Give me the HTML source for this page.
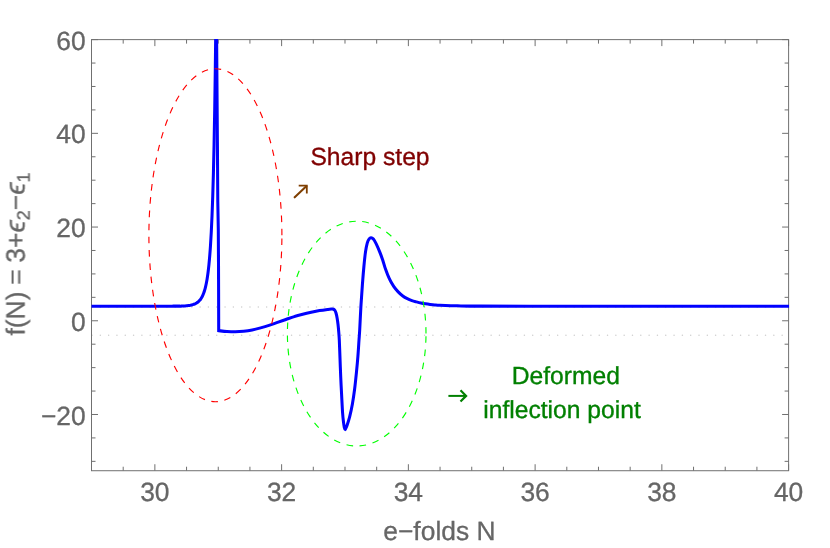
<!DOCTYPE html><html><head><meta charset="utf-8"><title>plot</title><style>html,body{margin:0;padding:0;background:#fff}svg{display:block}text{font-family:"Liberation Sans",sans-serif;text-rendering:geometricPrecision}.g text{stroke:#666;stroke-width:.3px}</style></head><body>
<svg width="830" height="548" viewBox="0 0 830 548">
<rect width="830" height="548" fill="#fff"/><g opacity="0.999">
<defs><clipPath id="c"><rect x="91.00" y="39.12" width="698.10" height="431.60"/></clipPath></defs>
<line x1="92.00" y1="306.90" x2="788.60" y2="306.90" stroke="#cfcfcf" stroke-width="1.5" stroke-linecap="round" stroke-dasharray="0.01 8.305"/>
<line x1="92.00" y1="335.35" x2="788.60" y2="335.35" stroke="#cfcfcf" stroke-width="1.5" stroke-linecap="round" stroke-dasharray="0.01 8.305"/>
<path d="M91.50 470.72v-4.00 M91.50 39.62v4.00 M123.19 470.72v-4.00 M123.19 39.62v4.00 M154.87 470.72v-6.50 M154.87 39.62v6.50 M186.56 470.72v-4.00 M186.56 39.62v4.00 M218.25 470.72v-4.00 M218.25 39.62v4.00 M249.93 470.72v-4.00 M249.93 39.62v4.00 M281.62 470.72v-6.50 M281.62 39.62v6.50 M313.30 470.72v-4.00 M313.30 39.62v4.00 M344.99 470.72v-4.00 M344.99 39.62v4.00 M376.68 470.72v-4.00 M376.68 39.62v4.00 M408.36 470.72v-6.50 M408.36 39.62v6.50 M440.05 470.72v-4.00 M440.05 39.62v4.00 M471.74 470.72v-4.00 M471.74 39.62v4.00 M503.42 470.72v-4.00 M503.42 39.62v4.00 M535.11 470.72v-6.50 M535.11 39.62v6.50 M566.80 470.72v-4.00 M566.80 39.62v4.00 M598.48 470.72v-4.00 M598.48 39.62v4.00 M630.17 470.72v-4.00 M630.17 39.62v4.00 M661.85 470.72v-6.50 M661.85 39.62v6.50 M693.54 470.72v-4.00 M693.54 39.62v4.00 M725.23 470.72v-4.00 M725.23 39.62v4.00 M756.91 470.72v-4.00 M756.91 39.62v4.00 M788.60 470.72v-6.50 M788.60 39.62v6.50 M91.50 461.35h4.00 M788.60 461.35h-4.00 M91.50 437.92h4.00 M788.60 437.92h-4.00 M91.50 414.49h6.50 M788.60 414.49h-6.50 M91.50 391.06h4.00 M788.60 391.06h-4.00 M91.50 367.63h4.00 M788.60 367.63h-4.00 M91.50 344.20h4.00 M788.60 344.20h-4.00 M91.50 320.77h6.50 M788.60 320.77h-6.50 M91.50 297.34h4.00 M788.60 297.34h-4.00 M91.50 273.91h4.00 M788.60 273.91h-4.00 M91.50 250.48h4.00 M788.60 250.48h-4.00 M91.50 227.05h6.50 M788.60 227.05h-6.50 M91.50 203.63h4.00 M788.60 203.63h-4.00 M91.50 180.20h4.00 M788.60 180.20h-4.00 M91.50 156.77h4.00 M788.60 156.77h-4.00 M91.50 133.34h6.50 M788.60 133.34h-6.50 M91.50 109.91h4.00 M788.60 109.91h-4.00 M91.50 86.48h4.00 M788.60 86.48h-4.00 M91.50 63.05h4.00 M788.60 63.05h-4.00 M91.50 39.62h6.50 M788.60 39.62h-6.50" stroke="#707070" stroke-width="1" fill="none"/>
<rect x="91.50" y="39.62" width="697.10" height="431.10" fill="none" stroke="#707070" stroke-width="1"/>
<g clip-path="url(#c)"><path d="M91.50 306.15 C99.58 306.15 127.75 306.15 140.00 306.15 C152.25 306.15 159.67 306.15 165.00 306.15 C170.33 306.15 169.83 306.15 172.00 306.15 C174.17 306.14 176.58 306.12 178.00 306.12 C179.42 306.12 179.95 306.15 180.52 306.15 C181.08 306.15 181.09 306.13 181.39 306.12 C181.69 306.11 181.99 306.09 182.30 306.08 C182.60 306.06 182.91 306.05 183.23 306.03 C183.55 306.01 183.87 306.00 184.19 305.97 C184.51 305.95 184.84 305.93 185.17 305.90 C185.50 305.88 185.84 305.85 186.17 305.82 C186.51 305.79 186.85 305.75 187.19 305.72 C187.53 305.68 187.87 305.64 188.22 305.59 C188.56 305.55 188.91 305.50 189.26 305.44 C189.61 305.38 189.96 305.32 190.31 305.26 C190.66 305.19 191.01 305.11 191.36 305.03 C191.71 304.95 192.06 304.86 192.41 304.76 C192.77 304.66 193.12 304.55 193.47 304.43 C193.82 304.31 194.17 304.18 194.53 304.03 C194.88 303.88 195.23 303.72 195.58 303.55 C195.93 303.37 196.27 303.17 196.62 302.96 C196.97 302.74 197.32 302.50 197.66 302.24 C198.00 301.98 198.35 301.69 198.69 301.37 C199.03 301.05 199.37 300.70 199.70 300.31 C200.04 299.92 200.38 299.51 200.71 299.03 C201.04 298.56 201.37 298.05 201.70 297.48 C202.02 296.90 202.35 296.28 202.67 295.59 C202.99 294.89 203.31 294.14 203.63 293.29 C203.94 292.45 204.25 291.54 204.56 290.51 C204.87 289.48 205.18 288.37 205.48 287.13 C205.78 285.88 206.08 284.54 206.38 283.02 C206.68 281.51 206.97 279.88 207.26 278.04 C207.54 276.20 207.83 274.22 208.11 271.98 C208.39 269.75 208.67 267.35 208.94 264.64 C209.21 261.93 209.48 259.01 209.75 255.72 C210.01 252.42 210.28 248.88 210.53 244.88 C210.79 240.89 211.04 236.59 211.29 231.73 C211.54 226.88 211.79 221.66 212.03 215.77 C212.27 209.87 212.50 203.53 212.74 196.38 C212.97 189.23 213.20 181.53 213.42 172.84 C213.64 164.16 213.86 154.81 214.08 144.27 C214.29 133.72 214.51 122.37 214.71 109.57 C214.92 96.77 215.12 82.99 215.32 67.45 C215.52 51.90 215.81 24.82 215.91 16.30" fill="none" stroke="#0000ff" stroke-width="3.05" stroke-linejoin="round"/><path d="M216.55 20.00 L216.65 40.00 L216.95 82.00 L217.40 142.00 L217.80 202.00 L218.30 230.00 L218.50 262.00 L218.60 290.00 L218.70 330.70 C220.07 330.83 224.13 331.32 226.90 331.50 C229.67 331.68 232.50 331.83 235.30 331.80 C238.10 331.77 240.88 331.60 243.70 331.30 C246.52 331.00 249.38 330.57 252.20 330.00 C255.02 329.43 257.80 328.67 260.60 327.90 C263.40 327.13 266.18 326.32 269.00 325.40 C271.82 324.48 274.68 323.38 277.50 322.40 C280.32 321.42 283.10 320.47 285.90 319.50 C288.70 318.53 291.50 317.47 294.30 316.60 C297.10 315.73 299.88 315.02 302.70 314.30 C305.52 313.58 308.38 312.92 311.20 312.30 C314.02 311.68 316.80 311.08 319.60 310.60 C322.40 310.12 325.93 309.67 328.00 309.40 C330.07 309.13 331.33 309.07 332.00 309.00 C332.27 309.04 333.13 309.03 333.60 309.24 C334.07 309.45 334.40 309.65 334.80 310.28 C335.20 310.91 335.62 311.74 336.00 313.02 C336.38 314.30 336.77 316.08 337.10 317.96 C337.43 319.84 337.73 322.04 338.00 324.30 C338.27 326.56 338.48 328.88 338.70 331.50 C338.92 334.12 339.08 335.55 339.30 340.00 C339.52 344.45 339.77 352.12 340.00 358.20 C340.23 364.28 340.43 370.42 340.70 376.50 C340.97 382.58 341.28 388.62 341.60 394.70 C341.92 400.78 342.28 408.43 342.60 413.00 C342.92 417.57 343.22 419.72 343.50 422.10 C343.78 424.48 344.02 426.05 344.30 427.30 C344.58 428.55 344.90 429.55 345.20 429.60 C345.50 429.65 345.82 428.23 346.10 427.60 C346.38 426.97 346.30 427.63 346.90 425.80 C347.50 423.97 348.78 420.25 349.70 416.60 C350.62 412.95 351.58 408.45 352.40 403.90 C353.22 399.35 353.93 394.48 354.60 389.30 C355.27 384.12 355.85 378.28 356.40 372.80 C356.95 367.32 357.47 361.87 357.90 356.40 C358.33 350.93 358.70 344.40 359.00 340.00 C359.30 335.60 359.38 335.57 359.70 330.00 C360.02 324.43 360.45 314.15 360.90 306.60 C361.35 299.05 361.90 291.38 362.40 284.70 C362.90 278.02 363.38 271.97 363.90 266.50 C364.42 261.03 364.93 255.85 365.50 251.90 C366.07 247.95 366.68 244.98 367.30 242.80 C367.92 240.62 368.58 239.63 369.20 238.80 C369.82 237.97 370.30 237.75 371.00 237.80 C371.70 237.85 372.55 238.12 373.40 239.10 C374.25 240.08 375.05 241.57 376.10 243.70 C377.15 245.83 378.60 249.18 379.70 251.90 C380.80 254.62 381.73 257.13 382.70 260.00 C383.67 262.87 384.43 266.07 385.50 269.10 C386.57 272.13 387.73 275.32 389.10 278.20 C390.47 281.08 392.18 284.12 393.70 286.40 C395.22 288.68 396.68 290.30 398.20 291.90 C399.72 293.50 401.28 294.87 402.80 296.00 C404.32 297.13 405.78 297.93 407.30 298.70 C408.82 299.47 410.37 300.07 411.90 300.60 C413.43 301.13 414.98 301.50 416.50 301.90 C418.02 302.30 419.48 302.68 421.00 303.00 C422.52 303.32 424.08 303.57 425.60 303.80 C427.12 304.03 428.58 304.22 430.10 304.40 C431.62 304.58 433.05 304.75 434.70 304.90 C436.35 305.05 436.20 305.14 440.00 305.30 C443.80 305.46 451.78 305.72 457.50 305.85 C463.22 305.98 462.22 306.05 474.30 306.10 C486.38 306.15 477.47 306.14 530.00 306.15 C582.53 306.16 746.25 306.15 789.50 306.15" fill="none" stroke="#0000ff" stroke-width="3.05" stroke-linejoin="miter"/></g>
<path d="M281.90 235.20 A66.50 166.50 0 1 0 148.90 235.20 A66.50 166.50 0 1 0 281.90 235.20" fill="none" stroke="#ff0000" stroke-width="1.15" stroke-dasharray="6.630 6.630"/>
<path d="M426.00 333.60 A69.30 112.40 0 1 0 287.40 333.60 A69.30 112.40 0 1 0 426.00 333.60" fill="none" stroke="#00ff00" stroke-width="1.15" stroke-dasharray="6.615 6.615"/>
<g class="g">
<text x="154.87" y="501" font-size="26.4" fill="#666666" text-anchor="middle">30</text>
<text x="281.62" y="501" font-size="26.4" fill="#666666" text-anchor="middle">32</text>
<text x="408.36" y="501" font-size="26.4" fill="#666666" text-anchor="middle">34</text>
<text x="535.11" y="501" font-size="26.4" fill="#666666" text-anchor="middle">36</text>
<text x="661.85" y="501" font-size="26.4" fill="#666666" text-anchor="middle">38</text>
<text x="788.60" y="501" font-size="26.4" fill="#666666" text-anchor="middle">40</text>
<text x="85.7" y="49.72" font-size="26.4" fill="#666666" text-anchor="end">60</text>
<text x="85.7" y="143.44" font-size="26.4" fill="#666666" text-anchor="end">40</text>
<text x="85.7" y="237.15" font-size="26.4" fill="#666666" text-anchor="end">20</text>
<text x="85.7" y="330.87" font-size="26.4" fill="#666666" text-anchor="end">0</text>
<text x="85.7" y="424.59" font-size="26.4" fill="#666666" text-anchor="end">−20</text>
<text x="439.4" y="540.2" font-size="26.4" fill="#666666" text-anchor="middle">e−folds N</text>
<text transform="translate(24.6 254) rotate(-90)" font-size="26.4" fill="#666666" text-anchor="middle" word-spacing="-0.6">f(N) = 3+<tspan font-style="italic" font-size="28">ϵ</tspan><tspan font-size="18" dy="4.5">2</tspan><tspan dy="-4.5">−</tspan><tspan font-style="italic" font-size="28">ϵ</tspan><tspan font-size="18" dy="4.5">1</tspan></text>
</g>
<text x="310.4" y="165.3" font-size="24.65" fill="#800000" stroke="#800000" stroke-width="0.35">Sharp step</text>
<text x="565.8" y="383.9" font-size="24.65" fill="#008000" stroke="#008000" stroke-width="0.35" text-anchor="middle">Deformed</text>
<text x="562" y="417.6" font-size="24.65" fill="#008000" stroke="#008000" stroke-width="0.35" text-anchor="middle">inflection point</text>
<path d="M294.7 197.3 L306.3 186.2" fill="none" stroke="#7f3f00" stroke-width="2.1" stroke-linecap="round"/><path d="M298.7 185.6 H306.8 V193.6" fill="none" stroke="#7f3f00" stroke-width="1.8" stroke-linejoin="miter"/>
<path d="M448.4 395.9 H465" fill="none" stroke="#008000" stroke-width="2"/><path d="M460.5 390.3 L466.1 395.9 L460.5 401.5" fill="none" stroke="#008000" stroke-width="2.2" stroke-linejoin="miter"/>
</g></svg></body></html>
